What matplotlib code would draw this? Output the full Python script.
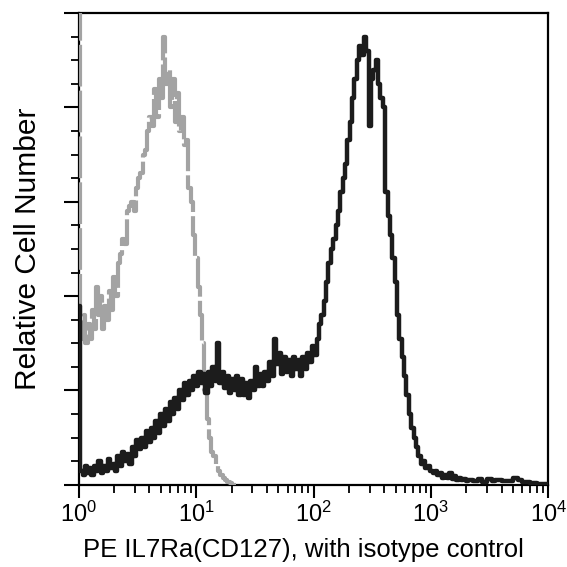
import numpy as np
import matplotlib
matplotlib.use("Agg")
from matplotlib import pyplot as plt
from matplotlib.ticker import LogLocator, MultipleLocator, NullFormatter

plt.rcParams['font.family'] = ['Liberation Sans', 'DejaVu Sans']

# stained sample (black)
stain_x = [1.00, 1.03, 1.08, 1.12, 1.17, 1.22, 1.28, 1.34, 1.40, 1.47, 1.54, 1.61, 1.69, 1.77,
           1.85, 1.94, 2.03, 2.13, 2.23, 2.34, 2.45, 2.57, 2.69, 2.82, 2.95, 3.09, 3.24, 3.40,
           3.56, 3.73, 3.91, 4.10, 4.29, 4.50, 4.71, 4.94, 5.17, 5.42, 5.68, 5.95, 6.23, 6.53,
           6.84, 7.17, 7.51, 7.87, 8.24, 8.63, 9.04, 9.47, 9.93, 10.4, 10.9, 11.4, 12.0, 12.5,
           13.1, 13.7, 14.4, 15.1, 15.8, 16.5, 17.3, 18.2, 19.0, 19.9, 20.9, 21.9, 22.9, 24.0,
           25.1, 26.3, 27.6, 28.9, 30.3, 31.7, 33.2, 34.8, 36.5, 38.2, 40.0, 41.9, 43.9, 46.0,
           48.2, 50.5, 52.9, 55.4, 58.0, 60.8, 63.7, 66.7, 69.9, 73.2, 76.7, 80.3, 84.1, 88.1,
           92.3, 96.7, 101, 106, 111, 116, 122, 128, 134, 140, 147, 154, 161, 169, 177, 185,
           194, 203, 213, 223, 233, 244, 256, 268, 281, 294, 308, 323, 338, 354, 371, 389,
           407, 427, 447, 468, 491, 514, 538, 564, 591, 619, 649, 680, 712, 746, 782, 819,
           858, 899, 942, 987, 1034, 1083, 1135, 1189, 1246, 1305, 1367, 1432, 1500, 1572,
           1647, 1725, 1807, 1893, 1983, 2078, 2300, 2500, 2750, 3000, 3300, 3500, 4000, 4500,
           5000, 5500, 6000, 7000, 8000, 10000]
stain_y = [38, 3, 2, 4, 2.5, 3.5, 2, 4, 3, 5, 2.5, 4, 3, 5.5,
           3.5, 4.5, 3, 6, 4, 7, 5, 6.5, 4.5, 8, 6, 9.5, 7.5, 10,
           8, 11.5, 9, 12, 10, 13.5, 11, 15, 12.5, 16, 13.5, 17.5, 15, 18.5,
           16, 20, 18, 21.5, 19, 22, 20, 23, 21, 24, 21.5, 23.5, 19.5, 24,
           21, 25, 22, 30, 21.5, 24, 20.5, 23, 19.5, 22.5, 20, 23, 19, 22.5,
           19, 21.5, 18.5, 22, 20, 25, 21, 23.5, 21, 24, 22, 26, 23, 31,
           25.5, 28, 23.5, 27, 24, 26.5, 23, 27, 24.5, 26.5, 23, 27, 24.5, 28,
           26, 29.5, 27.5, 31, 34, 36, 39, 43, 47, 50, 52, 55, 58, 62, 65, 68,
           73, 77, 82, 86, 90, 93, 91, 95, 92, 76, 86, 88, 90, 85, 82, 80,
           62, 57, 53, 48, 43, 36, 31, 27, 23, 19, 15, 12, 10, 8, 6, 4.5,
           5, 3.5, 4, 3, 2.5, 3, 2, 2.5, 1.5, 2, 1.5, 2.5, 1.2, 1.8,
           1, 1.5, 1, 1.3, 0.8, 1, 0.8, 1.2, 0.6, 1.2, 0.7, 1, 0.8, 0.9,
           1.5, 1, 0.6, 0.3, 0.2, 0]

# isotype control (grey)
iso_x = [1.00, 1.02, 1.06, 1.10, 1.14, 1.19, 1.24, 1.29, 1.35, 1.40, 1.46, 1.52, 1.58, 1.65,
         1.72, 1.80, 1.88, 1.96, 2.05, 2.14, 2.24, 2.34, 2.45, 2.56, 2.68, 2.80, 2.93, 3.06,
         3.20, 3.35, 3.50, 3.66, 3.83, 4.00, 4.18, 4.37, 4.57, 4.78, 5.00, 5.23, 5.47, 5.72,
         5.98, 6.26, 6.55, 6.85, 7.16, 7.49, 7.84, 8.20, 8.57, 8.96, 9.37, 9.80, 10.3, 10.7,
         11.2, 11.7, 12.3, 12.8, 13.4, 14.0, 14.7, 15.4, 16.1, 16.8, 17.6, 18.4, 19.3, 20.2,
         22.0]
iso_y = [130, 33, 31, 36, 30, 34, 31, 37, 33, 42, 36, 40, 33, 38,
         35, 41, 37, 44, 40, 47, 49, 52, 51, 58, 59, 60, 58, 63,
         65, 66, 70, 71, 75, 78, 76, 84, 78, 86, 82, 95, 85, 88,
         80, 86, 77, 83, 75, 78, 72, 73, 63, 60, 53, 48, 42, 36,
         30, 20, 14, 10, 7, 6, 4, 3, 2, 1.5, 1, 0.5, 0.3, 0,
         0]

fig = plt.figure(figsize=(5.67, 5.67), dpi=100)
ax = fig.add_axes([0.139, 0.145, 0.828, 0.832])

ax.plot(iso_x, iso_y, drawstyle='steps-post', color='#a3a3a3', lw=3.0,
        linestyle=(0, (10, 1.0)), zorder=3)
ax.plot(stain_x, stain_y, drawstyle='steps-post', color='#1c1c1c', lw=3.2, zorder=4)

ax.set_xscale('log')
ax.set_xlim(1, 1e4)
ax.set_ylim(0, 100)

ax.xaxis.set_major_locator(LogLocator(base=10, numticks=10))
ax.xaxis.set_minor_locator(LogLocator(base=10, subs=np.arange(2, 10), numticks=10))
ax.xaxis.set_minor_formatter(NullFormatter())
ax.yaxis.set_major_locator(MultipleLocator(20))
ax.yaxis.set_minor_locator(MultipleLocator(5))
ax.set_yticklabels([])

ax.tick_params(axis='x', which='major', direction='out', length=9, width=1.5, labelsize=17, pad=3)
ax.tick_params(axis='y', which='major', direction='out', length=11, width=1.5)
ax.tick_params(which='minor', direction='out', length=6, width=1.3)
ax.tick_params(top=False, right=False)
for s in ax.spines.values():
    s.set_linewidth(1.6)

ax.set_xlabel('PE IL7Ra(CD127), with isotype control', fontsize=18.5)
ax.xaxis.set_label_coords(0.478, -0.112)
ax.set_ylabel('Relative Cell Number', fontsize=21.5, labelpad=12)

fig.savefig('out.png', dpi=100)
